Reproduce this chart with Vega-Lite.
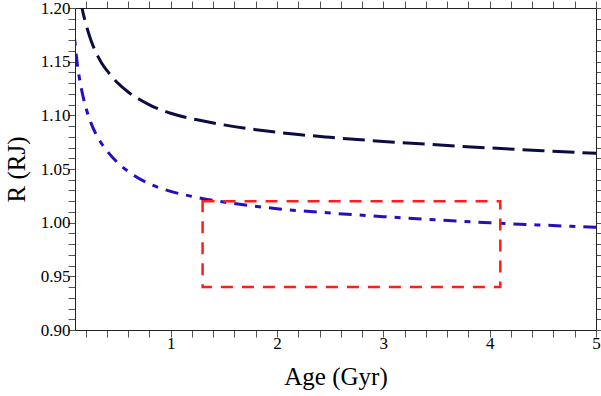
{
  "$schema": "https://vega.github.io/schema/vega-lite/v6.json",
  "width": 521,
  "height": 322,
  "autosize": "none",
  "padding": {"left": 75, "top": 8, "right": 5, "bottom": 66},
  "background": "white",
  "config": {
    "view": {"stroke": null},
    "font": "Liberation Serif, DejaVu Serif",
    "axis": {
      "labelFont": "Liberation Serif, DejaVu Serif",
      "titleFont": "Liberation Serif, DejaVu Serif",
      "labelColor": "black",
      "titleColor": "black",
      "domainColor": "#222222",
      "domainWidth": 1,
      "tickColor": "#555555",
      "tickWidth": 1,
      "grid": false,
      "ticks": true,
      "tickSize": 7,
      "titleFontWeight": "normal",
      "labelFontSize": 17,
      "titleFontSize": 25
    }
  },
  "datasets": {
    "dashed": [
      {"age": 0.15, "R": 1.209},
      {"age": 0.166, "R": 1.2},
      {"age": 0.2, "R": 1.186},
      {"age": 0.25, "R": 1.17},
      {"age": 0.3, "R": 1.158},
      {"age": 0.35, "R": 1.1488},
      {"age": 0.4, "R": 1.1418},
      {"age": 0.5, "R": 1.1303},
      {"age": 0.6, "R": 1.1217},
      {"age": 0.7, "R": 1.1152},
      {"age": 0.8, "R": 1.1098},
      {"age": 1.0, "R": 1.1019},
      {"age": 1.25, "R": 1.0958},
      {"age": 1.5, "R": 1.0911},
      {"age": 2.0, "R": 1.0842},
      {"age": 2.5, "R": 1.0795},
      {"age": 3.0, "R": 1.0757},
      {"age": 3.5, "R": 1.0725},
      {"age": 4.0, "R": 1.0696},
      {"age": 4.5, "R": 1.067},
      {"age": 5.0, "R": 1.0646}
    ],
    "dotdash": [
      {"age": 0.08, "R": 1.19},
      {"age": 0.1, "R": 1.168},
      {"age": 0.12, "R": 1.149},
      {"age": 0.15, "R": 1.13},
      {"age": 0.2, "R": 1.108},
      {"age": 0.25, "R": 1.093},
      {"age": 0.3, "R": 1.082},
      {"age": 0.4, "R": 1.067},
      {"age": 0.5, "R": 1.056},
      {"age": 0.6, "R": 1.0478},
      {"age": 0.8, "R": 1.0362},
      {"age": 1.0, "R": 1.0292},
      {"age": 1.25, "R": 1.0235},
      {"age": 1.5, "R": 1.0192},
      {"age": 2.0, "R": 1.013},
      {"age": 2.5, "R": 1.009},
      {"age": 3.0, "R": 1.0056},
      {"age": 3.5, "R": 1.0026},
      {"age": 4.0, "R": 0.9999},
      {"age": 4.5, "R": 0.9977},
      {"age": 5.0, "R": 0.9957}
    ],
    "box": [
      {"age_start": 1.3, "age_end": 4.1, "R_low": 0.94, "R_high": 1.02}
    ]
  },
  "layer": [
    {
      "data": {"name": "dashed"},
      "mark": {"type": "line", "clip": true, "interpolate": "monotone", "strokeDash": [22, 8], "strokeWidth": 3, "color": "#0c0c42"},
      "encoding": {
        "x": {
          "field": "age", "type": "quantitative",
          "scale": {"domain": [0.1, 5], "nice": false, "zero": false},
          "axis": {
            "orient": "bottom",
            "title": "Age (Gyr)",
            "titleY": 54,
            "titleBaseline": "alphabetic",
            "values": [0.2,0.4,0.6,0.8,1,1.2,1.4,1.6,1.8,2,2.2,2.4,2.6,2.8,3,3.2,3.4,3.6,3.8,4,4.2,4.4,4.6,4.8,5],
            "labelExpr": "abs(datum.value - round(datum.value)) < 0.001 ? format(datum.value, 'd') : ''",
            "labelPadding": -2,
            "labelFlush": false,
            "labelOverlap": false,
            "encode": {"ticks": {"update": {"y2": {"signal": "abs(datum.value - round(datum.value)) < 0.001 ? -7 : -4"}}}}
          }
        },
        "y": {
          "field": "R", "type": "quantitative",
          "scale": {"domain": [0.9, 1.2], "nice": false, "zero": false},
          "axis": {
            "orient": "left",
            "title": "R (RJ)",
            "titleAngle": -90,
            "titleX": -51,
            "titleY": 161,
            "titleAlign": "center",
            "titleBaseline": "alphabetic",
            "values": [0.9,0.91,0.92,0.93,0.94,0.95,0.96,0.97,0.98,0.99,1,1.01,1.02,1.03,1.04,1.05,1.06,1.07,1.08,1.09,1.1,1.11,1.12,1.13,1.14,1.15,1.16,1.17,1.18,1.19,1.2],
            "labelExpr": "round(datum.value*100) % 5 == 0 ? format(datum.value, '.2f') : ''",
            "labelPadding": -2,
            "labelFlush": false,
            "labelOverlap": false,
            "encode": {"ticks": {"update": {"x2": {"signal": "round(datum.value*100) % 5 == 0 ? 7 : 4"}}}}
          }
        }
      }
    },
    {
      "data": {"name": "dotdash"},
      "mark": {"type": "line", "clip": true, "interpolate": "monotone", "strokeDash": [13, 8, 6, 8], "strokeWidth": 3, "color": "#2410c0"},
      "encoding": {
        "x": {
          "field": "age", "type": "quantitative",
          "axis": {
            "orient": "top",
            "title": null,
            "labels": false,
            "values": [0.2,0.4,0.6,0.8,1,1.2,1.4,1.6,1.8,2,2.2,2.4,2.6,2.8,3,3.2,3.4,3.6,3.8,4,4.2,4.4,4.6,4.8,5],
            "encode": {"ticks": {"update": {"y2": {"signal": "abs(datum.value - round(datum.value)) < 0.001 ? 7 : 4"}}}}
          }
        },
        "y": {
          "field": "R", "type": "quantitative",
          "axis": {
            "orient": "right",
            "title": null,
            "labels": false,
            "values": [0.9,0.91,0.92,0.93,0.94,0.95,0.96,0.97,0.98,0.99,1,1.01,1.02,1.03,1.04,1.05,1.06,1.07,1.08,1.09,1.1,1.11,1.12,1.13,1.14,1.15,1.16,1.17,1.18,1.19,1.2],
            "encode": {"ticks": {"update": {"x2": {"signal": "round(datum.value*100) % 5 == 0 ? -7 : -4"}}}}
          }
        }
      }
    },
    {
      "data": {"name": "box"},
      "mark": {"type": "rect", "fill": null, "fillOpacity": 0, "stroke": "#ff1c1c", "strokeWidth": 2.5, "strokeDash": [12, 9]},
      "encoding": {
        "x": {"field": "age_start", "type": "quantitative", "axis": null},
        "x2": {"field": "age_end"},
        "y": {"field": "R_low", "type": "quantitative", "axis": null},
        "y2": {"field": "R_high"}
      }
    }
  ],
  "resolve": {"axis": {"x": "independent", "y": "independent"}}
}
